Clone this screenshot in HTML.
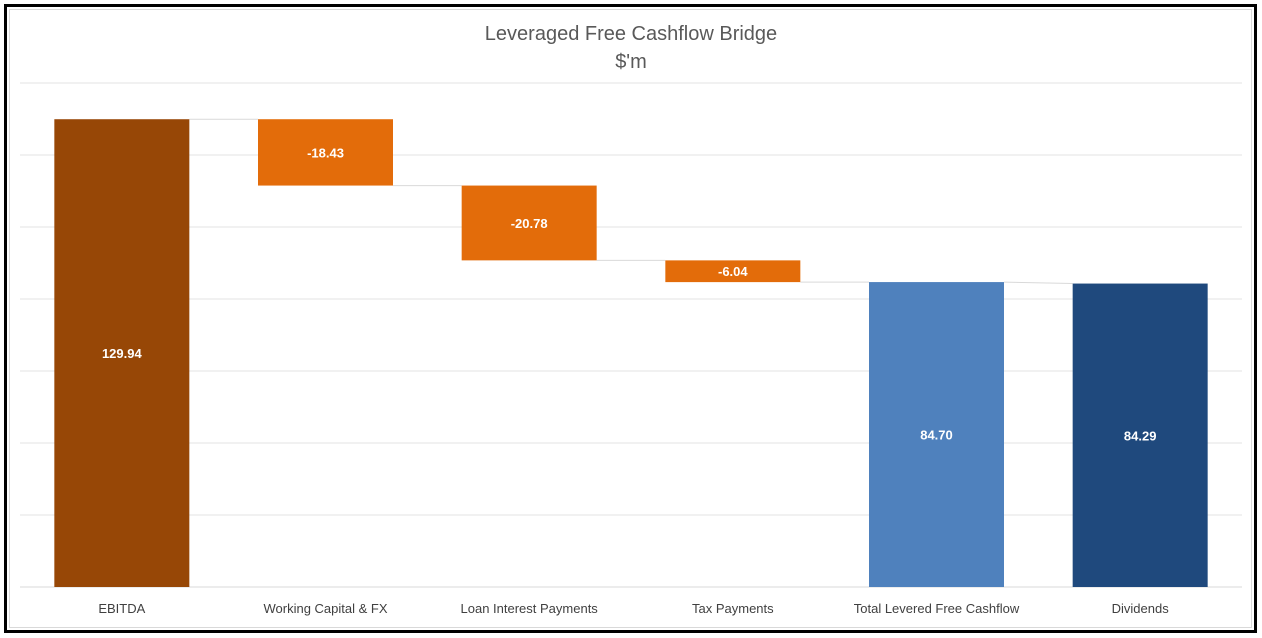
<!DOCTYPE html>
<html><head><meta charset="utf-8"><style>
html,body{margin:0;padding:0;background:#fff;}
svg{display:block;font-family:"Liberation Sans",Arial,sans-serif;}
</style></head><body>
<svg id="chart" width="1262" height="638">
<rect x="5.5" y="5.5" width="1250" height="626" fill="#fff" stroke="#000" stroke-width="3"/>
<rect x="9.5" y="9.5" width="1242" height="618" fill="none" stroke="#d9d9d9" stroke-width="1"/>
<text x="631" y="40" text-anchor="middle" font-size="20" fill="#595959">Leveraged Free Cashflow Bridge</text>
<text x="631" y="68" text-anchor="middle" font-size="20" fill="#595959">$'m</text>
<g id="grid"></g><g id="conn"></g><g id="bars"></g><g id="labels"></g>
</svg>
<script>
const categories = ["EBITDA","Working Capital & FX","Loan Interest Payments","Tax Payments","Total Levered Free Cashflow","Dividends"];
const values = [129.94,-18.43,-20.78,-6.04,84.70,84.29];
const kinds = ["total","delta","delta","delta","total","total"];
const valueLabels = ["129.94","-18.43","-20.78","-6.04","84.70","84.29"];
const yTicks = [0,20,40,60,80,100,120,140];
const colors = ["#974706","#e36c0a","#e36c0a","#e36c0a","#4f81bd","#1f497d"];
const NS="http://www.w3.org/2000/svg";
const plotLeft=20,plotRight=1242,plotBase=587,plotTop=83,yMax=140;
const y=v=>plotBase-(v/yMax)*(plotBase-plotTop);
const band=(plotRight-plotLeft)/categories.length;
const bw=135;
const xc=i=>plotLeft+band*(i+0.5);
function mk(tag,attrs,parent){const e=document.createElementNS(NS,tag);for(const k in attrs)e.setAttribute(k,attrs[k]);document.getElementById(parent).appendChild(e);return e;}
yTicks.forEach(t=>{
  const l=mk('line',{x1:plotLeft,x2:plotRight,y1:y(t),y2:y(t),stroke:t===0?'#d9d9d9':'#e3e3e3','stroke-width':1},'grid');
  
  
});
let run=0;const ends=[];
values.forEach((v,i)=>{
  let a,b;
  if(kinds[i]==='total'){a=0;b=v;run=v;}else{a=run;b=run+v;run=b;}
  const hi=Math.max(a,b),lo=Math.min(a,b);
  const r=mk('rect',{x:xc(i)-bw/2,y:y(hi),width:bw,height:y(lo)-y(hi),fill:colors[i]},'bars');
  
  
  ends.push(run);
  const t=mk('text',{x:xc(i),y:(y(hi)+y(lo))/2+5,'text-anchor':'middle','font-size':13,'font-weight':'bold',fill:'#fff'},'labels');
  t.textContent=valueLabels[i];
  
  
  const c=mk('text',{x:xc(i),y:613,'text-anchor':'middle','font-size':13,fill:'#404040'},'labels');
  c.textContent=categories[i];
  
  
});
for(let i=0;i<values.length-1;i++){
  const nextStart = kinds[i+1]==='total'?values[i+1]:ends[i];
  const l=mk('line',{x1:xc(i)+bw/2,x2:xc(i+1)-bw/2,y1:y(ends[i]),y2:y(nextStart),stroke:'#d9d9d9','stroke-width':1},'conn');
  
  
}
</script>
</body></html>
